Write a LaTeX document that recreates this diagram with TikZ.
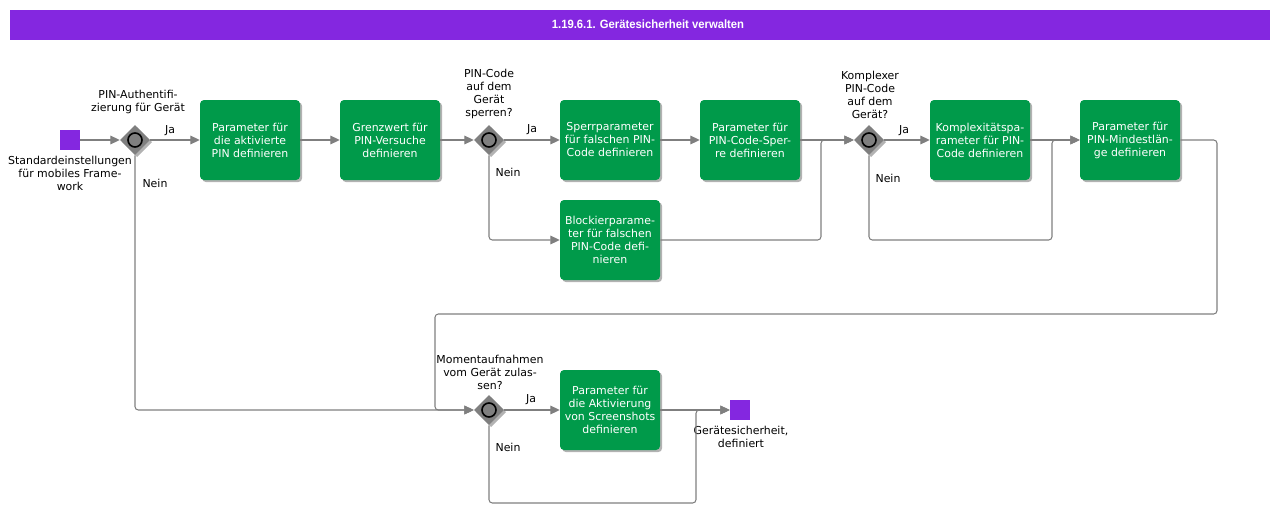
\documentclass[tikz,border=0pt]{standalone}
\usepackage{fontspec}
\setmainfont{DejaVu Sans}
\newfontfamily\titlefont{Liberation Sans}
\usetikzlibrary{shapes.geometric,arrows.meta,shadows}

\definecolor{evpurple}{HTML}{8427E0}
\definecolor{taskgreen}{HTML}{009A4A}
\definecolor{flowgray}{HTML}{7F7F7F}

\tikzset{
  task/.style={rectangle, rounded corners=3pt, fill=taskgreen, text=white,
    minimum width=75pt, minimum height=60pt, inner sep=1pt, align=center,
    font=\fontsize{8.2}{9.75}\selectfont,
    drop shadow={shadow xshift=1.6pt, shadow yshift=-1.6pt, fill=black, opacity=0.3}},
  gate/.style={diamond, fill=flowgray, minimum width=22.5pt, minimum height=22.5pt,
    inner sep=0pt, drop shadow={shadow xshift=1.6pt, shadow yshift=-1.6pt, fill=black, opacity=0.3}},
  ring/.style={circle, draw=black, line width=1.2pt, fill=flowgray, minimum size=10.5pt, inner sep=0pt},
  event/.style={rectangle, fill=evpurple, minimum size=15pt, inner sep=0pt},
  lbl/.style={font=\fontsize{8.2}{9.75}\selectfont, align=center, inner sep=0pt},
  flow/.style={draw=flowgray, line width=0.8pt, rounded corners=2.5pt,
    -{Triangle[length=7pt,width=6.5pt]}},
}

\begin{document}
\begin{tikzpicture}[x=0.75pt,y=-0.75pt]
\useasboundingbox (0,0) rectangle (1280,514);

% title
\fill[evpurple] (10,10) rectangle (1270,40);
\node[text=white, font=\titlefont\bfseries\fontsize{9}{10}\selectfont] (title) at (648,24)
  {\scalebox{0.94}[1]{1.19.6.1. Gerätesicherheit verwalten}};

% events
\node[event] (start) at (70,140) {};
\node[event] (end) at (740,410) {};
\node[lbl, anchor=north] at (70,156) {Standardeinstellungen\\für mobiles Frame-\\work};
\node[lbl, anchor=north] at (741,426) {Gerätesicherheit,\\definiert};

% gateways
\node[gate] (g1) at (135,140) {};
\node[gate] (g2) at (489,140) {};
\node[gate] (g3) at (869,140) {};
\node[gate] (g4) at (489,410) {};
\foreach \g in {g1,g2,g3,g4}
  \node[ring] at (\g) {};

\node[lbl, anchor=south] at (138,114) {PIN-Authentifi-\\zierung für Gerät};
\node[lbl, anchor=south] at (489,119) {PIN-Code\\auf dem\\Gerät\\sperren?};
\node[lbl, anchor=south] at (870,119) {Komplexer\\PIN-Code\\auf dem\\Gerät?};
\node[lbl, anchor=south] at (490,390) {Momentaufnahmen\\vom Gerät zulas-\\sen?};

% tasks
\node[task] (b1) at (250,140) {Parameter für\\die aktivierte\\PIN definieren};
\node[task] (b2) at (390,140) {Grenzwert für\\PIN-Versuche\\definieren};
\node[task] (b3) at (610,140) {Sperrparameter\\für falschen PIN-\\Code definieren};
\node[task] (b4) at (750,140) {Parameter für\\PIN-Code-Sper-\\re definieren};
\node[task] (b5) at (610,240) {Blockierparame-\\ter für falschen\\PIN-Code defi-\\nieren};
\node[task] (b6) at (980,140) {Komplexitätspa-\\rameter für PIN-\\Code definieren};
\node[task] (b7) at (1130,140) {Parameter für\\PIN-Mindestlän-\\ge definieren};
\node[task] (b8) at (610,410) {Parameter für\\die Aktivierung\\von Screenshots\\definieren};

% bend points
\coordinate (m1) at (821,240);
\coordinate (m2) at (1052,240);
\coordinate (m3) at (1217,314);
\coordinate (m4) at (435,314);
\coordinate (m5) at (696,503);

% flows
\draw[flow] (start) -- (g1);
\draw[flow] (g1) -- (b1);
\draw[flow] (b1) -- (b2);
\draw[flow] (b2) -- (g2);
\draw[flow] (g2) -- (b3);
\draw[flow] (b3) -- (b4);
\draw[flow] (b4) -- (g3);
\draw[flow] (g3) -- (b6);
\draw[flow] (b6) -- (b7);
\draw[flow] (b8) -- (end);
\draw[flow] (g4) -- (b8);

\draw[flow] (g1.south) |- (g4.west);
\draw[flow] (g2.south) |- (b5.west);
\draw[flow] (b5.east) -- (m1) |- (g3.west);
\draw[flow] (g3.south) |- (m2) |- (b7.west);
\draw[flow] (b7.east) -| (m3) -- (m4) |- (g4.west);
\draw[flow] (g4.south) |- (m5) |- (end.west);

% branch labels
\node[lbl] at (170,131) {Ja};
\node[lbl] at (155,183) {Nein};
\node[lbl] at (532,130) {Ja};
\node[lbl] at (508,172) {Nein};
\node[lbl] at (904,131) {Ja};
\node[lbl] at (888,178) {Nein};
\node[lbl] at (531,400) {Ja};
\node[lbl] at (508,447) {Nein};

\end{tikzpicture}
\end{document}
